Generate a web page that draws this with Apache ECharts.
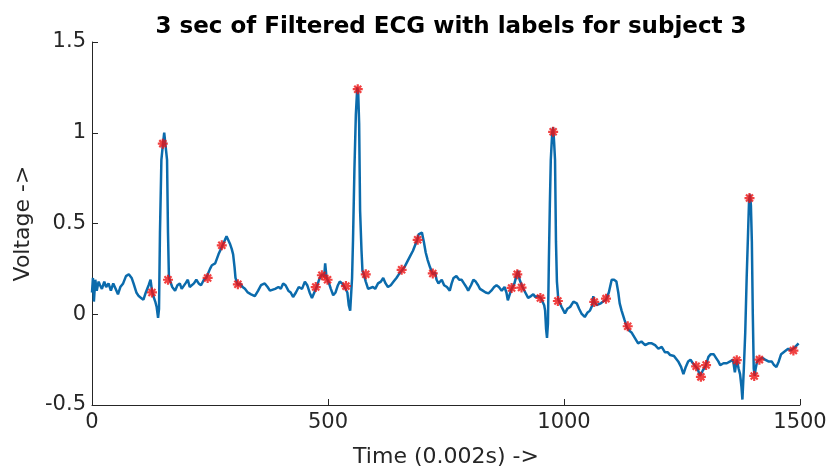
<!DOCTYPE html>
<html>
<head>
<meta charset="utf-8">
<script src="https://cdn.jsdelivr.net/npm/echarts@6/dist/echarts.min.js"></script>
<style>
html,body{margin:0;padding:0;background:#fff;}
#c{width:831px;height:473px;}
</style>
</head>
<body>
<div id="c"></div>
<script>
// ---- data ----
var titleText = '3 sec of Filtered ECG with labels for subject 3';
var xAxisName = 'Time (0.002s) ->';
var yAxisName = 'Voltage ->';
var xTicks = [0, 500, 1000, 1500];
var yTicks = [-0.5, 0, 0.5, 1, 1.5];

var time = [0,2,4,7,10,14,17,21,26,30,35,40,45,50,55,60,66,72,78,84,88,94,99,104,109,114,120,124,127,130,134,137,140,142,144,147,150,153,155,157,159,161,163,166,170,176,181,186,190,193,198,203,207,210,216,221,226,231,237,242,245,250,254,261,268,275,280,285,289,292,296,299,302,304,309,314,319,324,330,337,345,352,358,366,372,377,381,388,395,400,405,410,416,421,426,432,438,445,451,456,461,466,471,476,481,487,492,494,497,501,506,511,516,521,525,530,535,538,541,544,547,549,551,553,556,559,562,564,566,568,571,573,576,580,585,589,595,600,606,612,617,622,627,633,639,645,650,656,662,668,674,680,686,689,692,695,699,703,707,711,716,722,727,730,734,741,746,752,758,762,766,772,778,783,788,793,797,803,808,813,818,822,828,834,840,846,852,857,862,868,874,878,881,885,889,895,900,903,906,912,918,924,930,935,939,945,951,955,958,960,962,964,966,968,970,972,975,977,979,981,983,985,988,991,995,1002,1007,1013,1020,1027,1032,1037,1044,1050,1055,1060,1062,1064,1069,1073,1078,1083,1089,1095,1101,1106,1111,1115,1118,1122,1128,1133,1138,1143,1150,1157,1164,1172,1179,1186,1193,1200,1207,1214,1220,1225,1233,1242,1248,1253,1258,1263,1268,1273,1278,1283,1288,1294,1300,1306,1311,1317,1322,1327,1331,1338,1345,1352,1358,1362,1366,1370,1373,1376,1378,1381,1384,1387,1390,1392,1394,1396,1398,1400,1402,1404,1406,1409,1414,1420,1426,1433,1440,1445,1450,1455,1460,1464,1470,1475,1480,1484,1490,1497];

var voltage = [0.12,0.20,0.07,0.19,0.13,0.18,0.16,0.14,0.18,0.15,0.17,0.13,0.17,0.14,0.11,0.15,0.17,0.21,0.22,0.20,0.17,0.12,0.10,0.09,0.08,0.12,0.16,0.19,0.13,0.10,0.07,0.04,-0.02,0.03,0.45,0.85,0.93,1.0,1.01,0.90,0.85,0.45,0.20,0.18,0.15,0.13,0.16,0.17,0.14,0.13,0.17,0.19,0.15,0.14,0.17,0.19,0.17,0.16,0.19,0.20,0.20,0.25,0.27,0.28,0.33,0.37,0.40,0.43,0.42,0.39,0.36,0.33,0.26,0.20,0.16,0.17,0.15,0.14,0.12,0.11,0.10,0.13,0.16,0.17,0.15,0.13,0.12,0.14,0.15,0.14,0.17,0.16,0.13,0.12,0.095,0.12,0.15,0.14,0.18,0.16,0.12,0.09,0.12,0.15,0.19,0.22,0.21,0.28,0.20,0.18,0.14,0.105,0.12,0.16,0.18,0.17,0.15,0.155,0.12,0.05,0.02,0.03,0.20,0.41,0.80,1.10,1.25,1.22,1.05,0.57,0.35,0.24,0.22,0.18,0.14,0.13,0.15,0.14,0.17,0.18,0.20,0.17,0.15,0.16,0.18,0.20,0.22,0.24,0.26,0.29,0.32,0.35,0.39,0.41,0.44,0.45,0.45,0.40,0.34,0.30,0.26,0.22,0.23,0.19,0.17,0.19,0.16,0.15,0.13,0.17,0.20,0.21,0.19,0.19,0.17,0.15,0.13,0.16,0.19,0.18,0.16,0.14,0.13,0.12,0.115,0.13,0.15,0.16,0.15,0.13,0.15,0.12,0.077,0.11,0.14,0.17,0.22,0.24,0.19,0.15,0.12,0.09,0.10,0.11,0.095,0.10,0.09,0.08,0.05,0.02,-0.08,-0.13,-0.05,0.30,0.60,0.85,1.00,1.03,0.95,0.85,0.40,0.18,0.08,0.07,0.04,0.005,0.03,0.04,0.07,0.06,0.03,0.004,-0.015,0.01,0.02,0.05,0.10,0.07,0.05,0.04,0.06,0.07,0.08,0.12,0.19,0.19,0.18,0.12,0.06,0.02,-0.03,-0.07,-0.09,-0.10,-0.13,-0.16,-0.15,-0.17,-0.16,-0.16,-0.17,-0.19,-0.18,-0.21,-0.21,-0.225,-0.23,-0.26,-0.29,-0.33,-0.29,-0.26,-0.25,-0.27,-0.285,-0.30,-0.34,-0.31,-0.285,-0.235,-0.22,-0.22,-0.24,-0.26,-0.28,-0.27,-0.27,-0.26,-0.25,-0.32,-0.25,-0.30,-0.33,-0.40,-0.47,-0.30,-0.10,0.20,0.45,0.62,0.66,0.60,0.40,0.00,-0.30,-0.34,-0.30,-0.26,-0.25,-0.24,-0.25,-0.26,-0.26,-0.28,-0.29,-0.26,-0.22,-0.21,-0.20,-0.19,-0.20,-0.20,-0.18,-0.16];

var labelTime = [127,150,161,245,275,309,474,487,499,538,563,580,656,690,722,889,901,910,950,977,987,1064,1089,1135,1280,1290,1301,1366,1393,1403,1414,1486];
var labelVoltage = [0.12,0.94,0.19,0.20,0.38,0.165,0.15,0.215,0.19,0.155,1.24,0.22,0.245,0.41,0.225,0.145,0.22,0.147,0.09,1.005,0.073,0.068,0.086,-0.066,-0.287,-0.345,-0.28,-0.253,0.64,-0.34,-0.25,-0.2];

// ---- chart ----
var ecgData = time.map(function(t, i){ return [t, voltage[i]]; });
var labelData = labelTime.map(function(t, i){ return [t, labelVoltage[i]]; });

var FONT = '"DejaVu Sans",sans-serif';
var chart = echarts.init(document.getElementById('c'), null, {renderer: 'canvas'});
chart.setOption({
  animation: false,
  backgroundColor: '#ffffff',
  title: {
    text: titleText,
    left: 446, textAlign: 'center', top: 11,
    textStyle: {fontFamily: FONT, fontWeight: 'bold', fontSize: 23, color: '#000'}
  },
  grid: {left: 92, right: 31, top: 42, bottom: 68, containLabel: false},
  xAxis: {
    type: 'value', min: 0, max: 1500, interval: 500,
    name: xAxisName, nameLocation: 'middle', nameGap: 41,
    nameTextStyle: {fontFamily: FONT, fontSize: 22, color: '#262626'},
    axisLine: {show: true, onZero: false, lineStyle: {color: '#262626', width: 1}},
    axisTick: {show: true, inside: true, length: 6, lineStyle: {color: '#262626'}},
    axisLabel: {fontFamily: FONT, fontSize: 21, color: '#262626', margin: 7,
      formatter: function(v){ return xTicks.indexOf(v) >= 0 ? String(v) : ''; }},
    splitLine: {show: false}
  },
  yAxis: {
    type: 'value', min: -0.5, max: 1.5, interval: 0.5,
    name: yAxisName, nameLocation: 'middle', nameGap: 56, nameRotate: 90,
    nameTextStyle: {fontFamily: FONT, fontSize: 22, color: '#262626'},
    axisLine: {show: true, onZero: false, lineStyle: {color: '#262626', width: 1}},
    axisTick: {show: true, inside: true, length: 6, lineStyle: {color: '#262626'}},
    axisLabel: {fontFamily: FONT, fontSize: 21, color: '#262626', margin: 6,
      formatter: function(v){ return yTicks.indexOf(v) >= 0 ? String(v) : ''; }},
    splitLine: {show: false}
  },
  series: [
    {
      type: 'line', data: ecgData, showSymbol: false, symbol: 'none',
      lineStyle: {color: '#0b6bac', width: 2.5}, z: 2
    },
    {
      type: 'scatter', data: labelData,
      symbol: 'path://M0,-5L0,5M-5,0L5,0M-3.5,-3.5L3.5,3.5M-3.5,3.5L3.5,-3.5',
      symbolSize: 10,
      itemStyle: {color: 'rgba(0,0,0,0)', borderColor: '#ee1111', borderWidth: 2.2},
      z: 3
    }
  ]
});
</script>
</body>
</html>
